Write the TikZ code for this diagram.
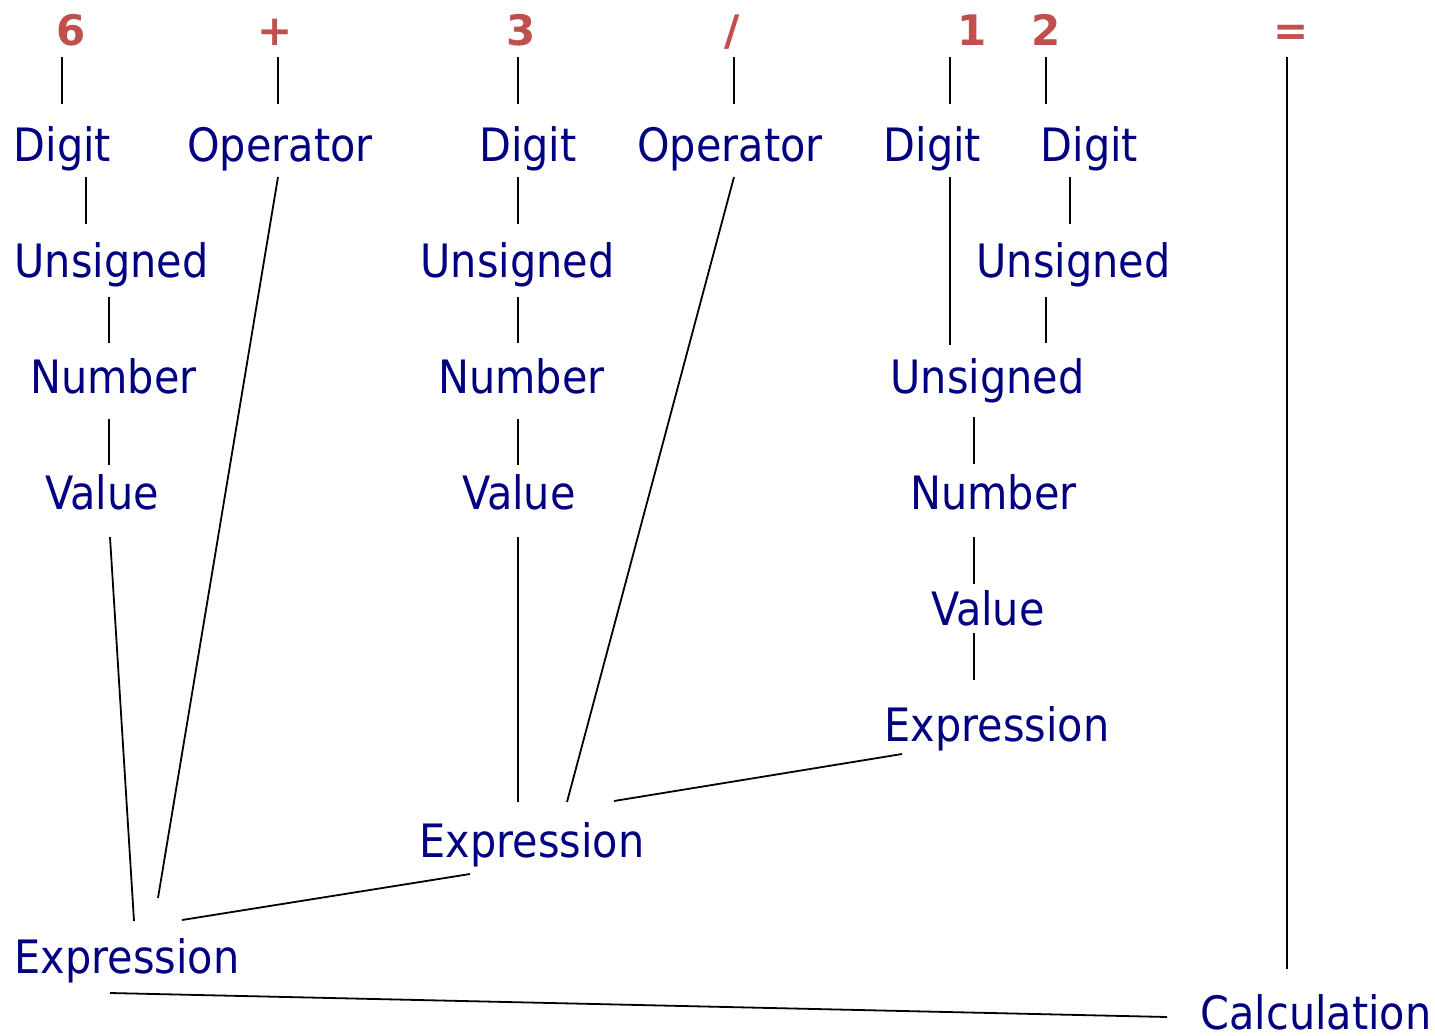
\documentclass[tikz,border=0pt]{standalone}
\usepackage{fontspec}
\setmainfont{DejaVu Sans Condensed}
\newfontfamily\tokfont{DejaVu Sans}
\usetikzlibrary{calc}
\definecolor{navy}{RGB}{0,0,128}
\definecolor{tokred}{RGB}{192,80,77}
\begin{document}
\begin{tikzpicture}[x=1pt,y=-1pt,
  lbl/.style={anchor=base,inner sep=0pt,text=navy,font=\fontsize{46}{55}\selectfont},
  tok/.style={anchor=base,inner sep=0pt,text=tokred,font=\tokfont\fontsize{42}{50}\selectfont\bfseries},
  conn/.style={draw=black,line width=1.8pt}]
\useasboundingbox (0,0) rectangle (1435,1036);
% tokens
\node[tok] (t6) at (71,45) {6};
\node[tok] (tplus) at (275,45) {+};
\node[tok] (t3) at (521,45) {3};
\node[tok] (tdiv) at (732,45) {/};
\node[tok] (t1) at (972.5,45) {1};
\node[tok] (t2) at (1046.5,45) {2};
\node[tok] (teq) at (1291.5,45) {=};
% row 1
\node[lbl] (d1) at (62.5,161) {Digit};
\node[lbl] (o1) at (280,161) {Operator};
\node[lbl] (d2) at (528,161) {Digit};
\node[lbl] (o2) at (730,161) {Operator};
\node[lbl] (d3) at (932.5,161) {Digit};
\node[lbl] (d4) at (1089.5,161) {Digit};
% row 2
\node[lbl] (u1) at (111.5,277) {Unsigned};
\node[lbl] (u2) at (517.5,277) {Unsigned};
\node[lbl] (u4) at (1073.5,277) {Unsigned};
% row 3
\node[lbl] (n1) at (113.5,393) {Number};
\node[lbl] (n2) at (521.5,393) {Number};
\node[lbl] (u3) at (987.5,393) {Unsigned};
% row 4
\node[lbl] (v1) at (102.5,509) {Value};
\node[lbl] (v2) at (519,509) {Value};
\node[lbl] (n3) at (993.5,509) {Number};
% rows 5-8
\node[lbl] (v3) at (988,625) {Value};
\node[lbl] (e3) at (997,741) {Expression};
\node[lbl] (e2) at (532,857) {Expression};
\node[lbl] (e1) at (127,973) {Expression};
\node[lbl] (calc) at (1316,1029) {Calculation};
% connectors
\draw[conn] ($(t6.base)+(-9,12)$) -- ($(d1.base)+(-0.5,-57)$);
\draw[conn] ($(tplus.base)+(3,12)$) -- ($(o1.base)+(-2,-57)$);
\draw[conn] ($(t3.base)+(-3,12)$) -- ($(d2.base)+(-10,-57)$);
\draw[conn] ($(tdiv.base)+(2,12)$) -- ($(o2.base)+(4,-57)$);
\draw[conn] ($(t1.base)+(-22.5,12)$) -- ($(d3.base)+(17.5,-57)$);
\draw[conn] ($(t2.base)+(-0.5,12)$) -- ($(d4.base)+(-43.5,-57)$);
\draw[conn] ($(teq.base)+(-4.5,12)$) -- ($(calc.base)+(-29,-60)$);
\draw[conn] ($(d1.base)+(23.5,16)$) -- ($(u1.base)+(-25.5,-53)$);
\draw[conn] ($(u1.base)+(-2.5,20)$) -- ($(n1.base)+(-4.5,-50)$);
\draw[conn] ($(n1.base)+(-4.5,26)$) -- ($(v1.base)+(6.5,-44)$);
\draw[conn] ($(v1.base)+(7.5,28)$) -- ($(e1.base)+(7,-52)$);
\draw[conn] ($(o1.base)+(-2,16)$) -- ($(e1.base)+(31,-75)$);
\draw[conn] ($(e2.base)+(-62,17)$) -- ($(e1.base)+(55,-53)$);
\draw[conn] ($(d2.base)+(-10,16)$) -- ($(u2.base)+(0.5,-53)$);
\draw[conn] ($(u2.base)+(0.5,20)$) -- ($(n2.base)+(-3.5,-50)$);
\draw[conn] ($(n2.base)+(-3.5,26)$) -- ($(v2.base)+(-1,-44)$);
\draw[conn] ($(v2.base)+(-1,28)$) -- ($(e2.base)+(-14,-55)$);
\draw[conn] ($(o2.base)+(4,16)$) -- ($(e2.base)+(35,-55)$);
\draw[conn] ($(e3.base)+(-95,13)$) -- ($(e2.base)+(82,-56)$);
\draw[conn] ($(d3.base)+(17.5,16)$) -- ($(u3.base)+(-37.5,-48)$);
\draw[conn] ($(d4.base)+(-19.5,16)$) -- ($(u4.base)+(-3.5,-53)$);
\draw[conn] ($(u4.base)+(-27.5,20)$) -- ($(u3.base)+(58.5,-50)$);
\draw[conn] ($(u3.base)+(-13.5,24)$) -- ($(n3.base)+(-19.5,-45)$);
\draw[conn] ($(n3.base)+(-19.5,28)$) -- ($(v3.base)+(-14,-41)$);
\draw[conn] ($(v3.base)+(-14,8)$) -- ($(e3.base)+(-23,-61)$);
\draw[conn] ($(e1.base)+(-17,20)$) -- ($(calc.base)+(-149,-12)$);
\end{tikzpicture}
\end{document}
